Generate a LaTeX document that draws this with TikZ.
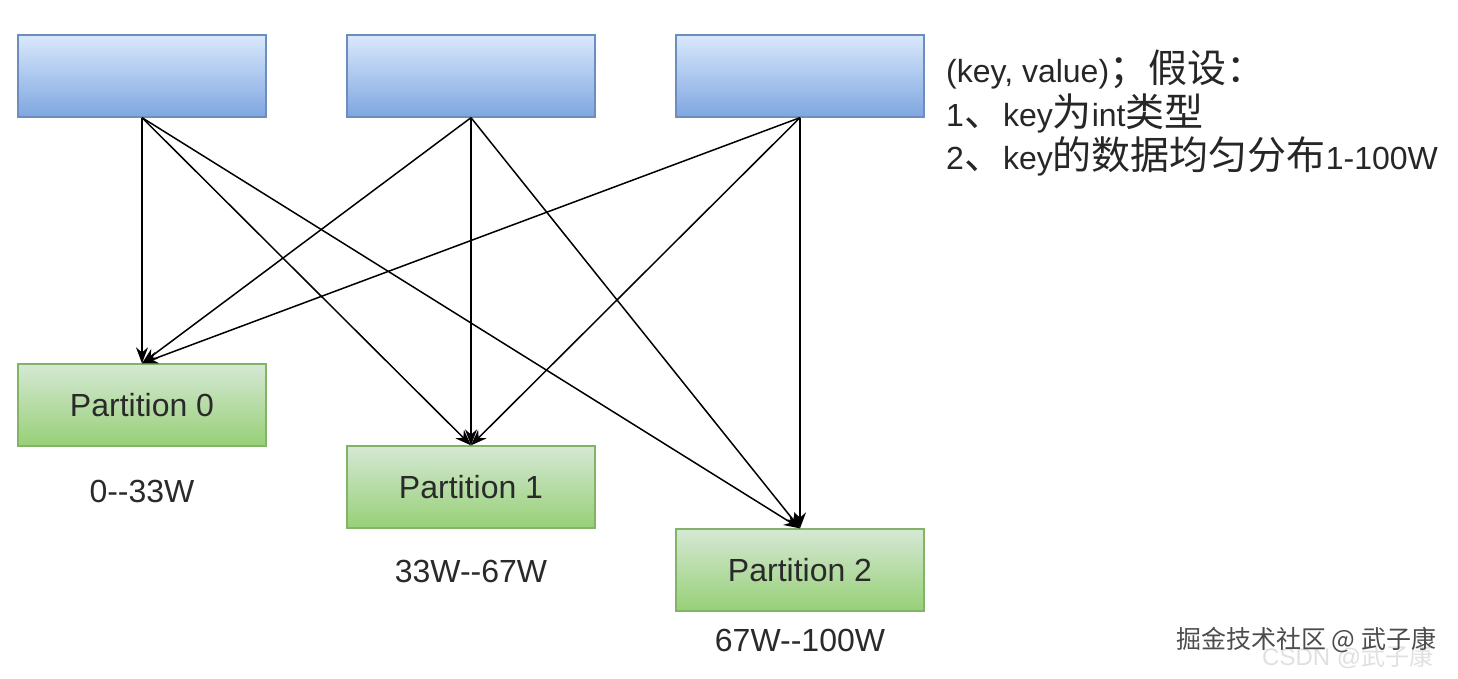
\documentclass[tikz,border=0pt]{standalone}
\usepackage{fontspec}
\setmainfont{Liberation Sans}
\newfontfamily\cjk{Noto Sans CJK SC}
\usetikzlibrary{arrows.meta}
\definecolor{bluetop}{HTML}{DAE8FC}
\definecolor{bluebot}{HTML}{7EA6E0}
\definecolor{blueline}{HTML}{6C8EBF}
\definecolor{greentop}{HTML}{D5E8D4}
\definecolor{greenbot}{HTML}{97D077}
\definecolor{greenline}{HTML}{82B366}
\definecolor{txt}{HTML}{2A2A2A}
\tikzset{
  topbox/.style={draw=blueline, line width=1.3pt, top color=bluetop, bottom color=bluebot, minimum width=248pt, minimum height=82pt, inner sep=0pt},
  partbox/.style={draw=greenline, line width=1.3pt, top color=greentop, bottom color=greenbot, minimum width=248pt, minimum height=82pt, inner sep=0pt, text=txt, font=\fontsize{32}{36}\selectfont},
  rangelabel/.style={text=txt, font=\fontsize{32}{36}\selectfont, inner sep=0pt},
  note/.style={text=black!85, font=\fontsize{32}{36}\selectfont, inner sep=0pt, anchor=west},
  link/.style={line width=1.5pt, -{Stealth[length=16pt, width=12pt]}},
}
\newcommand{\cj}[1]{{\cjk\fontsize{39}{42}\selectfont #1}}
\begin{document}
\begin{tikzpicture}[x=1pt, y=-1pt]
\useasboundingbox (0,0) rectangle (1458,678);
\node[topbox] (t1) at (142,76) {};
\node[topbox] (t2) at (471,76) {};
\node[topbox] (t3) at (800,76) {};
\node[partbox] (p0) at (142,405) {Partition 0};
\node[partbox] (p1) at (471,487) {Partition 1};
\node[partbox] (p2) at (800,570) {Partition 2};
\node[rangelabel] (r0) at (142,491) {0-{}-33W};
\node[rangelabel] (r1) at (471,571) {33W-{}-67W};
\node[rangelabel] (r2) at (800,640) {67W-{}-100W};
\foreach \s in {t1,t2,t3}{
  \foreach \d in {p0,p1,p2}{
    \draw[link] (\s.south) -- (\d.north);
  }
}
\node[note] (n1) at (946,70) {(key, value)\cj{；假设：}};
\node[note] (n2) at (946,113) {1\cj{、}key\cj{为}int\cj{类型}};
\node[note] (n3) at (946,156) {2\cj{、}key\cj{的数据均匀分布}1-100W};
\node[text=black!12, inner sep=0pt, anchor=west, font=\fontsize{24}{28}\selectfont] (wm2) at (1262,657) {CSDN @\cjk 武子康};
\node[text=black!70, inner sep=0pt, anchor=west, font=\cjk\fontsize{25}{28}\selectfont] (wm) at (1176,640) {掘金技术社区 @ 武子康};
\end{tikzpicture}
\end{document}
